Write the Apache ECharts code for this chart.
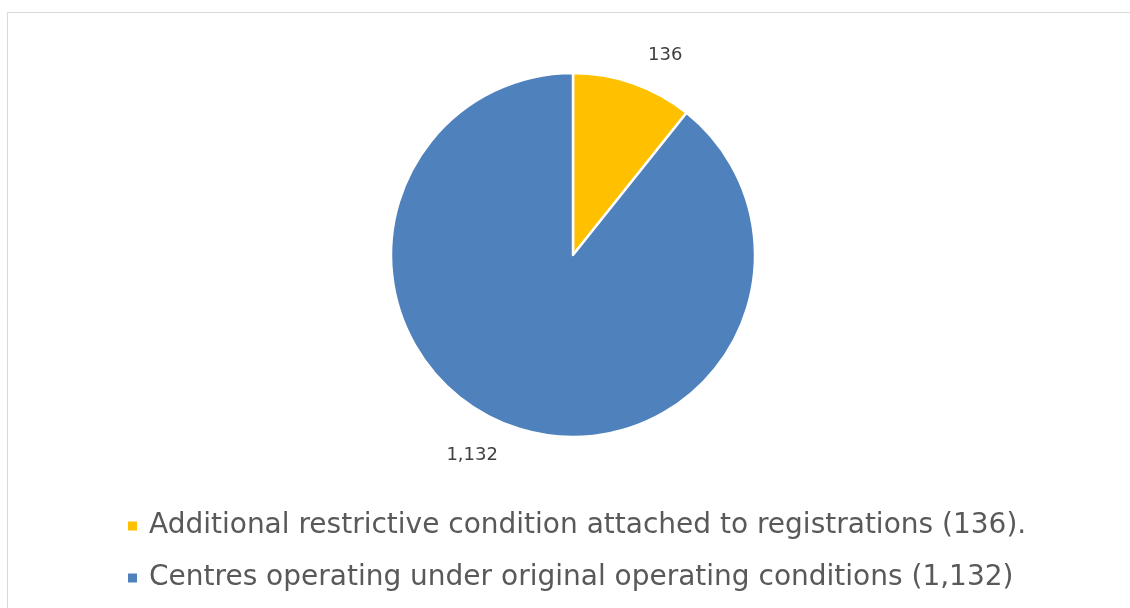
<!DOCTYPE html>
<html>
<head>
<meta charset="utf-8">
<script src="https://cdn.jsdelivr.net/npm/echarts@6/dist/echarts.min.js"></script>
<style>
	html, body { margin: 0; padding: 0; background: #fff; }
	#chart { width: 1130px; height: 608px; }
</style>
</head>
<body>
<div id="chart"></div>
<script type="text/javascript">
var categories = [
	'Additional restrictive condition attached to registrations (136).',
	'Centres operating under original operating conditions (1,132)'
];
var values = [136, 1132];
var colors = ['#ffc000', '#4f81bd'];

var myChart = echarts.init(document.getElementById('chart'));
var option = {
	backgroundColor: '#fff',
	color: colors,
	textStyle: { fontFamily: 'DejaVu Sans' },
	graphic: [{
		type: 'rect',
		shape: { x: 7.5, y: 12.5, width: 1130, height: 620 },
		style: { fill: 'none', stroke: '#d9d9d9', lineWidth: 1 },
		silent: true
	}],
	legend: {
		orient: 'vertical',
		left: 121,
		top: 507,
		itemWidth: 11,
		itemHeight: 11,
		itemGap: 24,
		icon: 'rect',
		textStyle: { fontSize: 28, color: '#595959', padding: [0, 0, 0, 6] },
		data: categories
	},
	series: [{
		type: 'pie',
		center: [573, 255],
		radius: 182,
		startAngle: 90,
		clockwise: true,
		itemStyle: { borderColor: '#fff', borderWidth: 2.5 },
		label: {
			show: true,
			position: 'outside',
			fontSize: 18,
			color: '#404040',
			formatter: function (p) { return p.value.toLocaleString('en-US'); }
		},
		labelLine: { show: false, length: 30, length2: 0 },
		emphasis: { disabled: true },
		data: categories.map(function (c, i) {
			return { name: c, value: values[i] };
		})
	}]
};
myChart.setOption(option);
</script>
</body>
</html>
